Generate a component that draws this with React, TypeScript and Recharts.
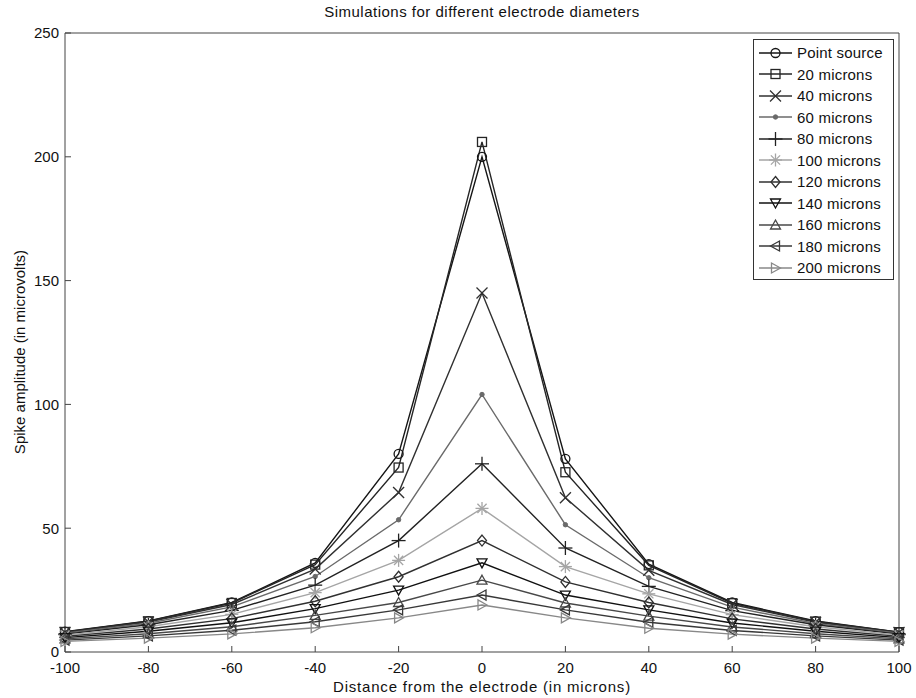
import { LineChart, Line, XAxis, YAxis } from 'recharts';

const distances = [-100, -80, -60, -40, -20, 0, 20, 40, 60, 80, 100];

const pointSource = [8.2, 12.5, 20, 36, 80, 200, 78, 35.5, 20, 12.5, 8];
const microns20 = [8.1, 12.4, 19.8, 35.3, 74.5, 206, 72.6, 35, 19.7, 12.3, 8];
const microns40 = [7.9, 12.1, 19.2, 33.5, 64.4, 145, 62.3, 33, 19.2, 12, 7.9];
const microns60 = [7.6, 11.6, 18.2, 30.5, 53.4, 104, 51.4, 30, 18.1, 11.5, 7.6];
const microns80 = [7.2, 11, 16.8, 27, 45, 76, 42, 26.5, 16.7, 11, 7.2];
const microns100 = [6.8, 10.2, 15.2, 24, 37, 58, 34.5, 23.5, 15.1, 10.2, 6.8];
const microns120 = [6.3, 9.3, 13.5, 20.5, 30.4, 45, 28.3, 20, 13.4, 9.3, 6.3];
const microns140 = [5.8, 8.4, 11.8, 17.5, 25, 36, 23, 17, 11.7, 8.4, 5.8];
const microns160 = [5.3, 7.4, 10.2, 14.8, 20, 29, 19.8, 14.5, 10.1, 7.4, 5.3];
const microns180 = [4.8, 6.5, 8.8, 12.2, 17, 23, 17, 12, 8.7, 6.5, 4.8];
const microns200 = [4.3, 5.6, 7.3, 9.8, 13.8, 19, 13.8, 9.6, 7.2, 5.6, 4.3];

const xTicks = [-100, -80, -60, -40, -20, 0, 20, 40, 60, 80, 100];
const yTicks = [0, 50, 100, 150, 200, 250];

type Shape =
  | 'circle'
  | 'square'
  | 'x'
  | 'point'
  | 'plus'
  | 'star'
  | 'diamond'
  | 'triDown'
  | 'triUp'
  | 'triLeft'
  | 'triRight';

const SERIES: { key: string; name: string; values: number[]; color: string; shape: Shape }[] = [
  { key: 's0', name: 'Point source', values: pointSource, color: '#151515', shape: 'circle' },
  { key: 's20', name: '20 microns', values: microns20, color: '#252525', shape: 'square' },
  { key: 's40', name: '40 microns', values: microns40, color: '#303030', shape: 'x' },
  { key: 's60', name: '60 microns', values: microns60, color: '#6a6a6a', shape: 'point' },
  { key: 's80', name: '80 microns', values: microns80, color: '#222222', shape: 'plus' },
  { key: 's100', name: '100 microns', values: microns100, color: '#a5a5a5', shape: 'star' },
  { key: 's120', name: '120 microns', values: microns120, color: '#303030', shape: 'diamond' },
  { key: 's140', name: '140 microns', values: microns140, color: '#101010', shape: 'triDown' },
  { key: 's160', name: '160 microns', values: microns160, color: '#484848', shape: 'triUp' },
  { key: 's180', name: '180 microns', values: microns180, color: '#383838', shape: 'triLeft' },
  { key: 's200', name: '200 microns', values: microns200, color: '#888888', shape: 'triRight' },
];

const chartData = distances.map((d, i) => {
  const row: Record<string, number> = { d };
  SERIES.forEach((s) => {
    row[s.key] = s.values[i];
  });
  return row;
});

const FONT = 'Arial, "Liberation Sans", Helvetica, sans-serif';

function Marker({ shape, color, cx, cy }: { shape: Shape; color: string; cx: number; cy: number }) {
  const common = { stroke: color, strokeWidth: 1.3, fill: 'none' };
  switch (shape) {
    case 'circle':
      return <circle cx={cx} cy={cy} r={4.5} {...common} />;
    case 'square':
      return <rect x={cx - 4.5} y={cy - 4.5} width={9} height={9} {...common} />;
    case 'x':
      return (
        <g {...common}>
          <line x1={cx - 5.5} y1={cy - 5.5} x2={cx + 5.5} y2={cy + 5.5} />
          <line x1={cx - 5.5} y1={cy + 5.5} x2={cx + 5.5} y2={cy - 5.5} />
        </g>
      );
    case 'point':
      return <circle cx={cx} cy={cy} r={2.2} fill={color} stroke={color} />;
    case 'plus':
      return (
        <g {...common}>
          <line x1={cx - 7} y1={cy} x2={cx + 7} y2={cy} />
          <line x1={cx} y1={cy - 7} x2={cx} y2={cy + 7} />
        </g>
      );
    case 'star':
      return (
        <g {...common}>
          <line x1={cx - 6.5} y1={cy} x2={cx + 6.5} y2={cy} />
          <line x1={cx} y1={cy - 6.5} x2={cx} y2={cy + 6.5} />
          <line x1={cx - 4.6} y1={cy - 4.6} x2={cx + 4.6} y2={cy + 4.6} />
          <line x1={cx - 4.6} y1={cy + 4.6} x2={cx + 4.6} y2={cy - 4.6} />
        </g>
      );
    case 'diamond':
      return (
        <polygon
          points={`${cx},${cy - 5.5} ${cx + 4.5},${cy} ${cx},${cy + 5.5} ${cx - 4.5},${cy}`}
          {...common}
        />
      );
    case 'triDown':
      return (
        <polygon points={`${cx - 5},${cy - 4} ${cx + 5},${cy - 4} ${cx},${cy + 5}`} {...common} />
      );
    case 'triUp':
      return (
        <polygon points={`${cx},${cy - 5} ${cx + 5},${cy + 4} ${cx - 5},${cy + 4}`} {...common} />
      );
    case 'triLeft':
      return (
        <polygon points={`${cx - 5},${cy} ${cx + 4},${cy - 5} ${cx + 4},${cy + 5}`} {...common} />
      );
    case 'triRight':
      return (
        <polygon points={`${cx + 5},${cy} ${cx - 4},${cy - 5} ${cx - 4},${cy + 5}`} {...common} />
      );
  }
  return null;
}

function LegendBox() {
  return (
    <div
      style={{
        position: 'absolute',
        left: 753,
        top: 39,
        width: 141,
        height: 241,
        border: '1px solid #333',
        background: '#fff',
        boxSizing: 'border-box',
        paddingTop: 2,
      }}
    >
      {SERIES.map((s) => (
        <div key={s.key} style={{ display: 'flex', alignItems: 'center', height: 21.5 }}>
          <svg width={43} height={16} style={{ flex: 'none' }}>
            <line x1={5} y1={8} x2={38} y2={8} stroke={s.color} strokeWidth={1.3} />
            <Marker shape={s.shape} color={s.color} cx={21.5} cy={8} />
          </svg>
          <span
            style={{ fontFamily: FONT, fontSize: 15, color: '#111', whiteSpace: 'nowrap', letterSpacing: 0.2 }}
          >
            {s.name}
          </span>
        </div>
      ))}
    </div>
  );
}

const textStyle = { fontFamily: FONT, fontSize: 15, color: '#111' };

export default function App() {
  return (
    <div style={{ position: 'absolute', left: 0, top: 0, width: 916, height: 698, background: '#fff' }}>
      <LineChart
        width={916}
        height={698}
        data={chartData}
        margin={{ top: 32, right: 16, bottom: 45, left: 64 }}
        style={{ position: 'absolute', left: 0, top: 0 }}
      >
        <XAxis
          dataKey="d"
          type="number"
          domain={[-100, 100]}
          ticks={xTicks}
          height={1}
          tickSize={-6}
          tickMargin={16}
          stroke="#444"
          tick={{ fill: '#111', fontSize: 15, fontFamily: FONT }}
          interval={0}
        />
        <XAxis
          xAxisId="top"
          orientation="top"
          dataKey="d"
          type="number"
          domain={[-100, 100]}
          ticks={xTicks}
          height={1}
          tickSize={-6}
          stroke="#444"
          tick={false}
        />
        <YAxis
          type="number"
          domain={[0, 250]}
          ticks={yTicks}
          width={1}
          tickSize={-6}
          tickMargin={12}
          stroke="#444"
          tick={{ fill: '#111', fontSize: 15, fontFamily: FONT }}
          interval={0}
        />
        <YAxis
          yAxisId="right"
          orientation="right"
          type="number"
          domain={[0, 250]}
          ticks={yTicks}
          width={1}
          tickSize={-6}
          stroke="#444"
          tick={false}
        />
        {SERIES.map((s) => (
          <Line
            key={s.key}
            dataKey={s.key}
            name={s.name}
            stroke={s.color}
            strokeWidth={1.4}
            isAnimationActive={false}
            dot={(p: any) => (
              <Marker key={`${s.key}-${p.index}`} shape={s.shape} color={s.color} cx={p.cx} cy={p.cy} />
            )}
            activeDot={false}
          />
        ))}
      </LineChart>
      <div
        style={{
          ...textStyle,
          position: 'absolute',
          left: 65,
          width: 834,
          top: 3,
          textAlign: 'center',
          letterSpacing: 0.5,
        }}
      >
        Simulations for different electrode diameters
      </div>
      <div
        style={{
          ...textStyle,
          position: 'absolute',
          left: 65,
          width: 834,
          top: 678,
          textAlign: 'center',
          letterSpacing: 0.8,
        }}
      >
        Distance from the electrode (in microns)
      </div>
      <div
        style={{
          ...textStyle,
          position: 'absolute',
          left: 19,
          top: 352,
          transform: 'translate(-50%, -50%) rotate(-90deg)',
          whiteSpace: 'nowrap',
        }}
      >
        Spike amplitude (in microvolts)
      </div>
      <LegendBox />
    </div>
  );
}
